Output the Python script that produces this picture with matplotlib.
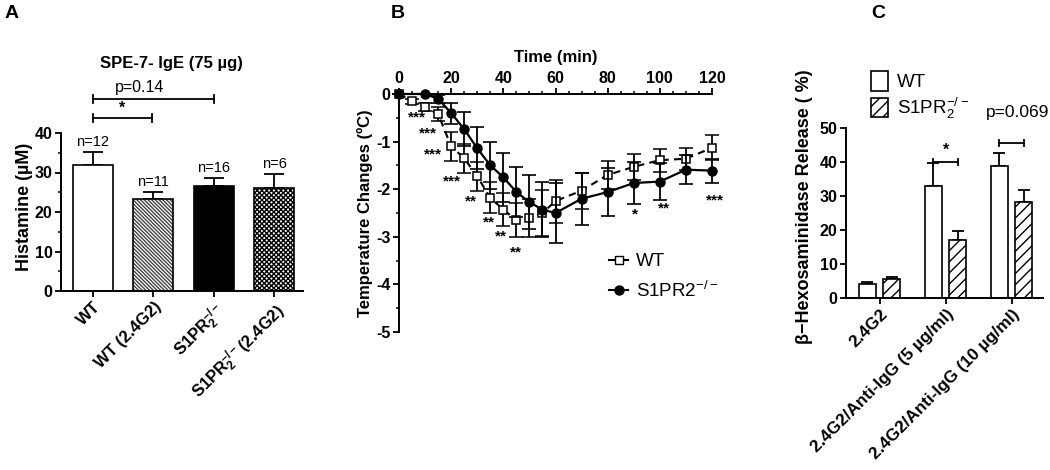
import matplotlib
matplotlib.use("Agg")
import matplotlib.pyplot as plt
from matplotlib.lines import Line2D
from matplotlib.patches import Patch
from matplotlib.ticker import MultipleLocator

plt.rcParams["font.family"] = ["Liberation Sans", "DejaVu Sans"]
plt.rcParams["mathtext.default"] = "regular"
plt.rcParams["axes.unicode_minus"] = False
plt.rcParams["hatch.linewidth"] = 1.0

# ── data: panel A (histamine) ────────────────────────────────────────────────
a_groups = ["WT", "WT (2.4G2)", r"S1PR$_2^{-/-}$", r"S1PR$_2^{-/-}$(2.4G2)"]
a_mean = [32.0, 23.3, 26.5, 26.0]
a_sem = [3.2, 1.7, 2.0, 3.7]
a_n = ["n=12", "n=11", "n=16", "n=6"]

# ── data: panel B (temperature) ──────────────────────────────────────────────
wt_time = [0, 5, 10, 15, 20, 25, 30, 35, 40, 45, 50, 55, 60, 70, 80, 90, 100, 110, 120]
wt_temp = [0, -0.15, -0.27, -0.42, -1.1, -1.35, -1.73, -2.18, -2.43, -2.65, -2.6,
           -2.5, -2.25, -2.03, -1.7, -1.53, -1.39, -1.36, -1.13]
wt_sem = [0, 0.05, 0.08, 0.15, 0.3, 0.31, 0.31, 0.33, 0.34, 0.36, 0.4, 0.48,
          0.45, 0.38, 0.3, 0.28, 0.24, 0.23, 0.26]
ko_time = [0, 10, 15, 20, 25, 30, 35, 40, 45, 50, 55, 60, 70, 80, 90, 100, 110, 120]
ko_temp = [0, 0, -0.1, -0.4, -0.74, -1.14, -1.5, -1.75, -2.06, -2.27, -2.43, -2.5,
           -2.2, -2.06, -1.87, -1.84, -1.59, -1.61]
ko_sem = [0, 0, 0.08, 0.22, 0.36, 0.44, 0.5, 0.52, 0.53, 0.56, 0.58, 0.62,
          0.55, 0.5, 0.45, 0.38, 0.3, 0.25]
b_star_text = ["***", "***", "***", "***", "**", "**", "**", "**", "*", "**", "***"]
b_star_t = [7, 11.2, 13.2, 20.2, 27.5, 34.5, 39, 45, 90.3, 101.5, 121]
b_star_y = [-0.5, -0.82, -1.28, -1.83, -2.25, -2.69, -3.0, -3.33, -2.54, -2.41, -2.23]

# ── data: panel C (beta-hexosaminidase) ──────────────────────────────────────
c_groups = ["2.4G2", "2.4G2/Anti-IgG (5 µg/ml)", "2.4G2/Anti-IgG (10 µg/ml)"]
c_wt = [4.2, 32.8, 38.7]
c_wt_sem = [0.4, 6.8, 4.0]
c_ko = [5.7, 17.1, 28.2]
c_ko_sem = [0.4, 2.5, 3.5]

W, H = 1050, 470
fig = plt.figure(figsize=(W / 100, H / 100), dpi=100)


def px_axes(x0, y_bot, x1, y_top):
    """Axes placed by pixel edges of the 1050x470 canvas."""
    return fig.add_axes([x0 / W, 1 - y_bot / H, (x1 - x0) / W, (y_bot - y_top) / H])


def bold_ticks(ax, size=11.5):
    for lab in ax.get_xticklabels() + ax.get_yticklabels():
        lab.set_fontsize(size)
        lab.set_fontweight("bold")


def bracket(ax, x0, x1, y, h):
    ax.plot([x0, x1], [y, y], color="black", lw=1.3, clip_on=False)
    for xx in (x0, x1):
        ax.plot([xx, xx], [y - h, y + h], color="black", lw=1.3, clip_on=False)


# ── panel A ──────────────────────────────────────────────────────────────────
axA = px_axes(61, 291, 303, 133)
xa = list(range(len(a_mean)))
bw = 0.66
axA.bar(xa[0], a_mean[0], bw, color="white", edgecolor="black", lw=1.2, zorder=2)
axA.bar(xa[1], a_mean[1], bw, color="white", edgecolor="#444444", hatch="\\" * 9, lw=0, zorder=2)
axA.bar(xa[1], a_mean[1], bw, fill=False, edgecolor="black", lw=1.2, zorder=3)
axA.bar(xa[2], a_mean[2], bw, color="black", edgecolor="black", lw=1.2, zorder=2)
axA.bar(xa[3], a_mean[3], bw, color="white", edgecolor="black", hatch="x" * 7, lw=0, zorder=2)
axA.bar(xa[3], a_mean[3], bw, fill=False, edgecolor="black", lw=1.2, zorder=3)
axA.errorbar(xa, a_mean, yerr=[[0] * 4, a_sem], fmt="none", ecolor="black",
             elinewidth=1.3, capsize=7, capthick=1.3, zorder=1)
for x, m, s, t in zip(xa, a_mean, a_sem, a_n):
    axA.text(x, m + s + 0.8, t, ha="center", va="bottom", fontsize=10.5)

axA.set_xlim(-0.53, 3.48)
axA.set_ylim(0, 40)
axA.yaxis.set_major_locator(MultipleLocator(10))
axA.yaxis.set_minor_locator(MultipleLocator(5))
axA.set_xticks(xa)
axA.set_xticklabels(a_groups, rotation=45, ha="right", rotation_mode="anchor")
bold_ticks(axA)
for lab in axA.get_xticklabels():
    lab.set_fontsize(12)
axA.set_ylabel("Histamine (µM)", fontsize=13, fontweight="bold")
axA.yaxis.set_label_coords(-0.115, 0.53)
axA.spines[["top", "right"]].set_visible(False)
axA.spines[["left", "bottom"]].set_linewidth(1.4)
axA.tick_params(width=1.3, length=4, pad=2)
axA.tick_params(which="minor", width=1.1, length=2.5)

bracket(axA, 0, 2, 48.6, 0.9)
bracket(axA, 0, 0.97, 43.8, 0.9)
axA.text(0.77, 49.6, "p=0.14", ha="center", va="bottom", fontsize=11.5)
axA.text(0.49, 44.3, "*", ha="center", va="bottom", fontsize=11.5, fontweight="bold")
axA.text(1.3, 57.5, "SPE-7- IgE (75 µg)", ha="center", va="center",
         fontsize=12, fontweight="bold")

# ── panel B ──────────────────────────────────────────────────────────────────
axB = px_axes(399, 332, 712, 94)
axB.errorbar(wt_time, wt_temp, yerr=wt_sem, fmt="s--", color="black", mfc="white",
             mec="black", ms=6.3, mew=1.1, lw=1.5, dashes=(3.5, 2.5), elinewidth=1.3,
             capsize=5, capthick=1.2, clip_on=False, zorder=3, label="WT")
axB.errorbar(ko_time, ko_temp, yerr=ko_sem, fmt="o-", color="black", ms=6.5, lw=1.6,
             elinewidth=1.3, capsize=5, capthick=1.2, clip_on=False, zorder=4,
             label=r"S1PR2$^{-/-}$")
for t, y, s in zip(b_star_t, b_star_y, b_star_text):
    axB.text(t, y, s, ha="center", va="center", fontsize=11, fontweight="bold")

axB.set_xlim(0, 120)
axB.set_ylim(-5, 0)
axB.xaxis.tick_top()
axB.xaxis.set_label_position("top")
axB.xaxis.set_major_locator(MultipleLocator(20))
axB.xaxis.set_minor_locator(MultipleLocator(5))
axB.yaxis.set_major_locator(MultipleLocator(1))
axB.yaxis.set_minor_locator(MultipleLocator(0.5))
axB.spines[["bottom", "right"]].set_visible(False)
axB.spines[["left", "top"]].set_linewidth(1.4)
axB.tick_params(width=1.3, length=4, pad=2)
axB.tick_params(which="minor", width=1.1, length=2.5)
bold_ticks(axB)
axB.set_xlabel("Time (min)", fontsize=12, fontweight="bold", labelpad=6)
axB.set_ylabel("Temperature Changes (ºC)", fontsize=12, fontweight="bold")
axB.yaxis.set_label_coords(-0.083, 0.5)
hB = [Line2D([0], [0], color="black", marker="s", mfc="white", ms=6.3, lw=1.5),
      Line2D([0], [0], color="black", marker="o", ms=6.5, lw=1.5)]
axB.legend(hB, ["WT", r"S1PR2$^{-/-}$"], loc="upper left", frameon=False,
           bbox_to_anchor=(600 / W, 1 - 244 / H), bbox_transform=fig.transFigure,
           fontsize=13.5, handlelength=1.0, handletextpad=0.4, borderpad=0,
           labelspacing=0.55)

# ── panel C ──────────────────────────────────────────────────────────────────
axC = px_axes(846, 298, 1043, 128)
xc = list(range(len(c_wt)))
cw = 0.26
x_wt = [x - 0.19 for x in xc]
x_ko = [x + 0.18 for x in xc]
axC.bar(x_wt, c_wt, cw, color="white", edgecolor="black", lw=1.2, zorder=2)
axC.bar(x_ko, c_ko, cw, color="white", edgecolor="black", hatch="///", lw=1.2, zorder=2)
axC.errorbar(x_wt, c_wt, yerr=[[0] * 3, c_wt_sem], fmt="none", ecolor="black",
             elinewidth=1.3, capsize=4.5, capthick=1.3, zorder=1)
axC.errorbar(x_ko, c_ko, yerr=[[0] * 3, c_ko_sem], fmt="none", ecolor="black",
             elinewidth=1.3, capsize=4.5, capthick=1.3, zorder=1)
axC.set_xlim(-0.515, 2.47)
axC.set_ylim(0, 50)
axC.yaxis.set_major_locator(MultipleLocator(10))
axC.set_xticks(xc)
axC.set_xticklabels(c_groups, rotation=45, ha="right", rotation_mode="anchor")
bold_ticks(axC)
for lab in axC.get_xticklabels():
    lab.set_fontsize(12.3)
axC.set_ylabel("β−Hexosaminidase Release ( %)", fontsize=13, fontweight="bold")
axC.yaxis.set_label_coords(-0.17, 0.54)
axC.spines[["top", "right"]].set_visible(False)
axC.spines[["left", "bottom"]].set_linewidth(1.4)
axC.tick_params(width=1.3, length=4, pad=2)

bracket(axC, 1 - 0.19, 1 + 0.18, 40, 1.0)
axC.text(1, 41.2, "*", ha="center", va="bottom", fontsize=11.5, fontweight="bold")
bracket(axC, 2 - 0.19, 2 + 0.18, 45.6, 1.0)
axC.text(2.08, 54.5, "p=0.069", ha="center", va="center", fontsize=12.5)
hC = [Patch(facecolor="white", edgecolor="black", lw=1.2),
      Patch(facecolor="white", edgecolor="black", hatch="///", lw=1.2)]
axC.legend(hC, ["WT", r"S1PR$_2^{-/-}$"], loc="upper left", frameon=False,
           bbox_to_anchor=(862 / W, 1 - 62 / H), bbox_transform=fig.transFigure,
           fontsize=13.5, handlelength=0.9, handleheight=1.2, handletextpad=0.45,
           borderpad=0, labelspacing=0.25)

# ── panel letters ────────────────────────────────────────────────────────────
for lx, letter in [(12, "A"), (398, "B"), (878, "C")]:
    fig.text(lx / W, 1 - 14 / H, letter, ha="center", va="center",
             fontsize=14, fontweight="bold")

fig.savefig("out.png", dpi=100)
